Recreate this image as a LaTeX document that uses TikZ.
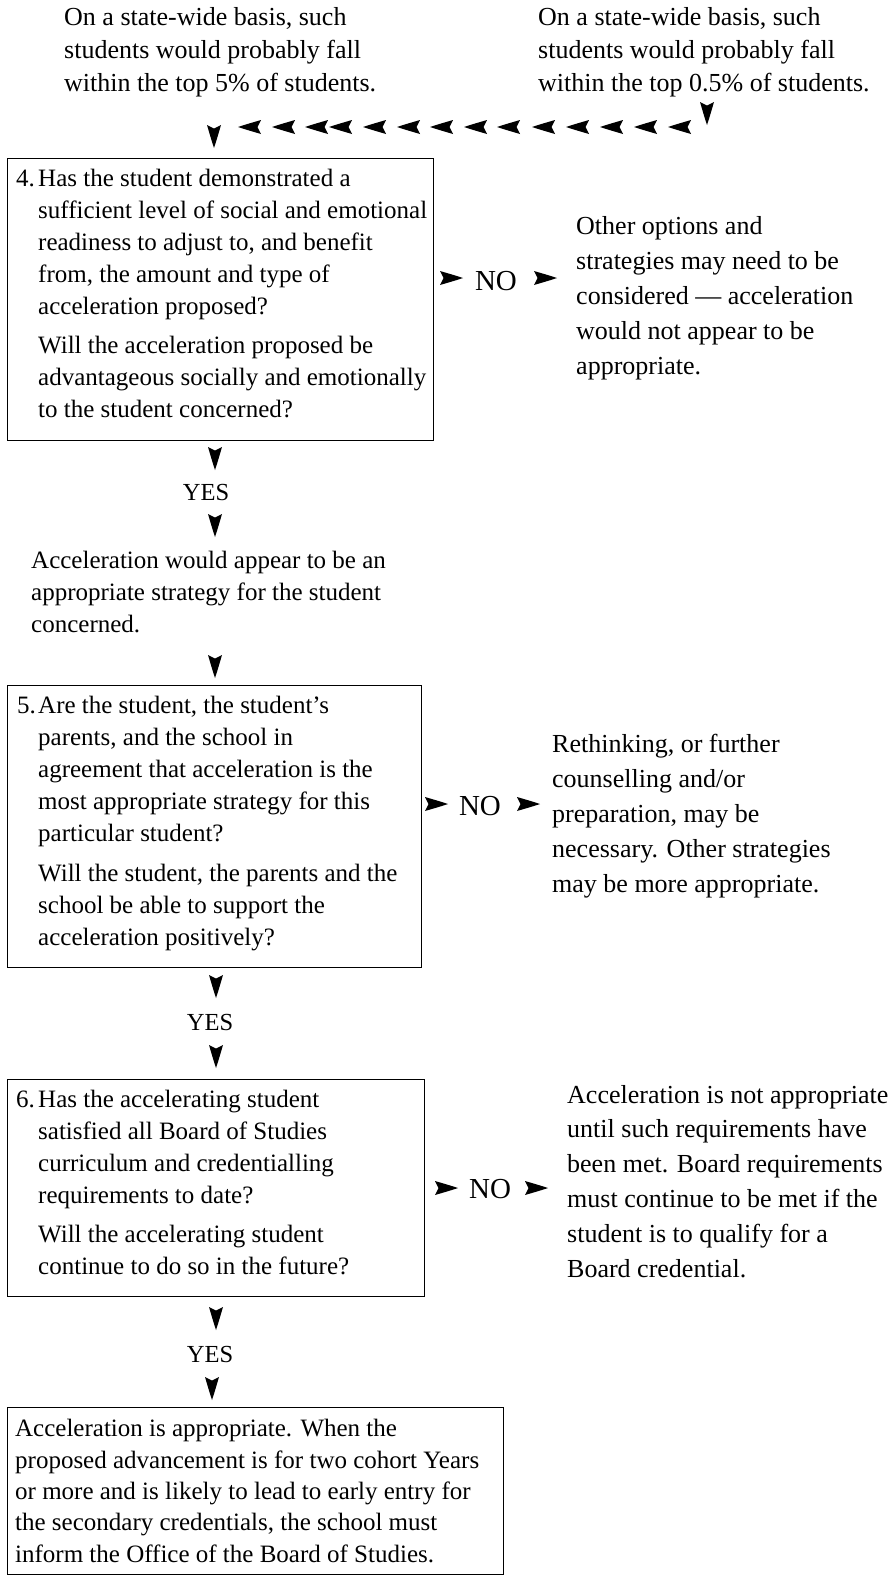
\documentclass[tikz,border=0pt]{standalone}
\usepackage{fontspec}
\setmainfont{Liberation Serif}

\begin{document}
\begin{tikzpicture}[x=1pt,y=-1pt,
    txt/.style={align=left,inner sep=0pt,anchor=base west,font=\fontsize{25}{32}\selectfont},
    side/.style={txt,font=\fontsize{26}{34.8}\selectfont},
    lead/.style={txt,font=\fontsize{26}{33}\selectfont},
    fin/.style={txt,font=\fontsize{25}{31.3}\selectfont},
    answer/.style={inner sep=0pt,anchor=base,font=\fontsize{24.5}{30}\selectfont},
    refuse/.style={answer,font=\fontsize{29}{30}\selectfont},
    box/.style={draw,line width=1pt,inner sep=0pt,anchor=north west},
    dart/.pic={\fill (0,0) .. controls (-9,3) and (-17,5.2) .. (-23,7) -- (-19.5,0) -- (-23,-7) .. controls (-17,-5.2) and (-9,-3) .. (0,0) -- cycle;}]
  \useasboundingbox (0,0) rectangle (889,1575);

  % lead-in texts (anchored at their last line)
  \node[lead] (lead5) at (64,91) {On a state-wide basis, such\\students would probably fall\\within the top 5\% of students.};
  \node[lead] (lead05) at (538,91) {On a state-wide basis, such\\students would probably fall\\within the top 0.5\% of students.};
  \pic[rotate=-90] at (707,125) {dart};
  \foreach \t in {238,272,305,329,363,397,430,464,497,532,566,600,634,668}
    \pic[rotate=180] at (\t,127) {dart};
  \pic[rotate=-90] at (214,148) {dart};

  % question 4
  \node[box,minimum width=426,minimum height=282] (b4) at (7,158) {};
  \node[txt] (n4) at (16,186) {4.};
  \node[txt] (q4) at (38,417) {Has the student demonstrated a\\sufficient level of social and emotional\\readiness to adjust to, and benefit\\from, the amount and type of\\acceleration proposed?\\[7pt]Will the acceleration proposed be\\advantageous socially and emotionally\\to the student concerned?};
  \pic at (463,278) {dart};
  \node[refuse] (no4) at (496,290) {NO};
  \pic at (557,278) {dart};
  \node[side] (s4) at (576,374) {Other options and\\strategies may need to be\\considered --- acceleration\\would not appear to be\\appropriate.};

  \pic[rotate=-90] at (215,470) {dart};
  \node[answer] (yes4) at (206,500) {YES};
  \pic[rotate=-90] at (215,537) {dart};
  \node[txt] (ok4) at (31,632) {Acceleration would appear to be an\\appropriate strategy for the student\\concerned.};
  \pic[rotate=-90] at (215,678) {dart};

  % question 5
  \node[box,minimum width=414,minimum height=282] (b5) at (7,685) {};
  \node[txt] (n5) at (17,713) {5.};
  \node[txt] (q5) at (38,945) {Are the student, the student's\\parents, and the school in\\agreement that acceleration is the\\most appropriate strategy for this\\particular student?\\[8pt]Will the student, the parents and the\\school be able to support the\\acceleration positively?};
  \pic at (448,804) {dart};
  \node[refuse] (no5) at (480,815) {NO};
  \pic at (540,804) {dart};
  \node[side] (s5) at (552,892) {Rethinking, or further\\counselling and/or\\preparation, may be\\necessary. Other strategies\\may be more appropriate.};

  \pic[rotate=-90] at (216,998) {dart};
  \node[answer] (yes5) at (210,1030) {YES};
  \pic[rotate=-90] at (216,1068) {dart};

  % question 6
  \node[box,minimum width=417,minimum height=217] (b6) at (7,1079) {};
  \node[txt] (n6) at (16,1107) {6.};
  \node[txt] (q6) at (38,1274) {Has the accelerating student\\satisfied all Board of Studies\\curriculum and credentialling\\requirements to date?\\[7pt]Will the accelerating student\\continue to do so in the future?};
  \pic at (458,1188) {dart};
  \node[refuse] (no6) at (490,1198) {NO};
  \pic at (548,1188) {dart};
  \node[side] (s6) at (567,1277) {Acceleration is not appropriate\\until such requirements have\\been met. Board requirements\\must continue to be met if the\\student is to qualify for a\\Board credential.};

  \pic[rotate=-90] at (216,1330) {dart};
  \node[answer] (yes6) at (210,1362) {YES};
  \pic[rotate=-90] at (212,1400) {dart};

  % outcome
  \node[box,minimum width=496,minimum height=167] (b7) at (7,1407) {};
  \node[fin] (fin) at (15,1562) {Acceleration is appropriate. When the\\proposed advancement is for two cohort Years\\or more and is likely to lead to early entry for\\the secondary credentials, the school must\\inform the Office of the Board of Studies.};
\end{tikzpicture}
\end{document}
